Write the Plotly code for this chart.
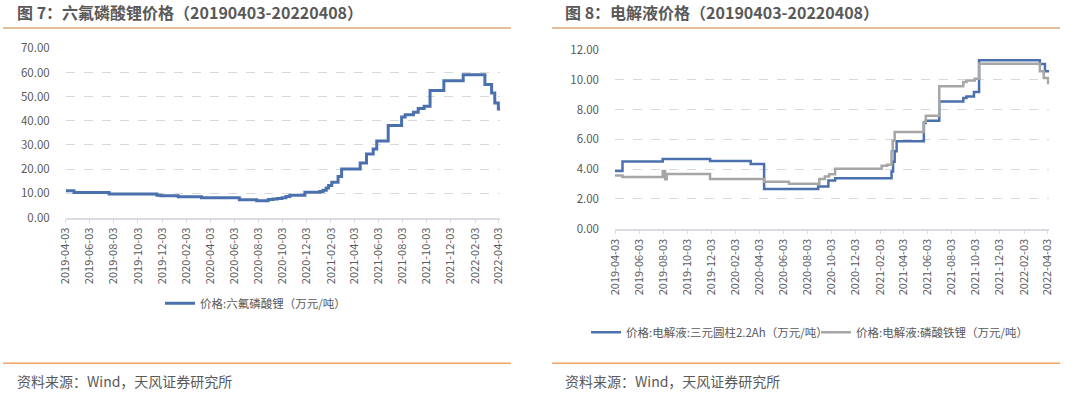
import plotly.graph_objects as go

# ---------------- data ----------------
lipf6_dates = ["2019-04-03", "2019-04-24", "2019-07-22", "2019-11-20", "2019-11-30",
               "2020-01-13", "2020-03-12", "2020-06-16", "2020-07-30", "2020-08-28",
               "2020-09-09", "2020-09-20", "2020-10-02", "2020-10-12", "2020-10-22",
               "2020-11-29", "2021-01-06", "2021-01-14", "2021-01-22", "2021-01-28",
               "2021-02-05", "2021-02-21", "2021-03-02", "2021-04-18", "2021-05-04",
               "2021-05-21", "2021-05-30", "2021-06-28", "2021-08-01", "2021-08-10",
               "2021-08-31", "2021-09-12", "2021-09-27", "2021-10-12", "2021-11-16",
               "2022-01-04", "2022-02-28", "2022-03-17", "2022-03-25", "2022-04-03",
               "2022-04-08"]
lipf6_price = [11.1, 10.3, 9.7, 9.2, 9.0,
               8.6, 8.2, 7.3, 6.9, 7.4,
               7.7, 7.9, 8.2, 8.7, 9.2,
               10.4, 10.8, 11.3, 12.2, 13.2,
               14.6, 17.0, 20.1, 22.5, 26.3,
               28.3, 31.7, 38.1, 41.6, 42.5,
               43.5, 45.1, 46.0, 52.5, 56.6,
               59.1, 55.0, 51.5, 47.4, 44.9,
               44.9]

ncm_dates = ["2019-04-03", "2019-04-22", "2019-08-02", "2019-11-30", "2020-03-12",
             "2020-04-15", "2020-08-30", "2020-09-25", "2020-10-12", "2021-03-04",
             "2021-03-08", "2021-03-12", "2021-03-17", "2021-05-25", "2021-05-30",
             "2021-07-03", "2021-09-02", "2021-09-10", "2021-09-29", "2021-10-12",
             "2022-03-15", "2022-03-28", "2022-04-08"]
ncm_price = [3.88, 4.52, 4.68, 4.55, 4.35,
             2.67, 2.83, 3.23, 3.39, 3.84,
             4.5, 5.2, 5.88, 7.09, 7.25,
             8.55, 8.77, 8.88, 9.18, 11.32,
             11.06, 10.57, 10.57]

lfp_dates = ["2019-04-03", "2019-04-22", "2019-08-02", "2019-08-08", "2019-08-12",
             "2019-11-30", "2020-04-15", "2020-06-17", "2020-09-02", "2020-09-16",
             "2020-09-27", "2020-10-12", "2021-02-07", "2021-02-21", "2021-03-04",
             "2021-03-07", "2021-03-12", "2021-05-25", "2021-05-30", "2021-07-03",
             "2021-09-02", "2021-09-10", "2021-10-01", "2021-10-12", "2022-03-15",
             "2022-03-25", "2022-04-05", "2022-04-08"]
lfp_price = [3.57, 3.48, 3.88, 3.32, 3.68,
             3.34, 3.15, 3.02, 3.34, 3.50,
             3.66, 4.02, 4.22, 4.29, 5.2,
             5.9, 6.5, 7.16, 7.58, 9.56,
             9.85, 9.96, 10.07, 11.08, 10.57,
             10.12, 9.78, 9.78]

tick_dates = ["2019-04-03", "2019-06-03", "2019-08-03", "2019-10-03", "2019-12-03",
              "2020-02-03", "2020-04-03", "2020-06-03", "2020-08-03", "2020-10-03",
              "2020-12-03", "2021-02-03", "2021-04-03", "2021-06-03", "2021-08-03",
              "2021-10-03", "2021-12-03", "2022-02-03", "2022-04-03"]

name_lipf6 = "价格:六氟磷酸锂（万元/吨）"
name_ncm = "价格:电解液:三元圆柱2.2Ah（万元/吨）"
name_lfp = "价格:电解液:磷酸铁锂（万元/吨）"

title_left = "图 7：六氟磷酸锂价格（20190403-20220408）"
title_right = "图 8：电解液价格（20190403-20220408）"
source_text = "资料来源：Wind，天风证券研究所"

# ---------------- styles ----------------
FONT = "Noto Sans CJK SC"
TXT = "#595959"
BLUE = "#4A70AE"
GRAY = "#A6A6A6"
AXIS = "#D9DCE3"
GRID = "#D9D9D9"

fig = go.Figure()
fig.add_trace(go.Scatter(x=lipf6_dates, y=lipf6_price, name=name_lipf6, mode="lines",
                         line=dict(color=BLUE, width=3, shape="hv"),
                         xaxis="x", yaxis="y", legend="legend"))
fig.add_trace(go.Scatter(x=ncm_dates, y=ncm_price, name=name_ncm, mode="lines",
                         line=dict(color=BLUE, width=2.5, shape="hv"),
                         xaxis="x2", yaxis="y2", legend="legend2"))
fig.add_trace(go.Scatter(x=lfp_dates, y=lfp_price, name=name_lfp, mode="lines",
                         line=dict(color=GRAY, width=2.5, shape="hv"),
                         xaxis="x2", yaxis="y2", legend="legend2"))

W, H = 1080, 397
def px(v): return v / W
def py(v): return 1 - v / H

xcommon = dict(type="date", tickmode="array", tickvals=tick_dates, tickformat="%Y-%m-%d",
               tickangle=-90, tickfont=dict(family=FONT, size=11, color=TXT),
               showline=True, linecolor=AXIS, linewidth=1.5, ticks="outside",
               ticklen=4, tickcolor=AXIS, showgrid=False, zeroline=False,
               range=["2019-04-03", "2022-04-08"], fixedrange=True)
ycommon = dict(tickformat=".2f", tickfont=dict(family=FONT, size=11.5, color=TXT),
               showgrid=True, gridcolor=GRID, griddash="dash", gridwidth=1,
               zeroline=False, showline=False, ticks="", ticklabelstandoff=15,
               fixedrange=True)

fig.update_layout(
    width=W, height=H, margin=dict(l=0, r=0, t=0, b=0, autoexpand=False),
    paper_bgcolor="white", plot_bgcolor="white",
    font=dict(family=FONT, color=TXT),
    xaxis=dict(xcommon, domain=[px(65.7), px(500.3)], anchor="y"),
    yaxis=dict(ycommon, domain=[py(217.5), py(48.3)], range=[0, 70], dtick=10, anchor="x"),
    xaxis2=dict(xcommon, domain=[px(615), px(1049.3)], anchor="y2"),
    yaxis2=dict(ycommon, domain=[py(228.7), py(50)], range=[0, 12], dtick=2, anchor="x2"),
    legend=dict(orientation="h", x=px(160), y=py(303.3), xanchor="left", yanchor="middle",
                font=dict(family=FONT, size=11.5, color=TXT), bgcolor="rgba(0,0,0,0)"),
    legend2=dict(orientation="h", x=px(586), y=py(332.3), xanchor="left", yanchor="middle",
                 entrywidth=185, entrywidthmode="pixels",
                 font=dict(family=FONT, size=11.5, color=TXT), bgcolor="rgba(0,0,0,0)"),
    showlegend=True,
)

# titles and source notes
for xpos, t in [(15, title_left), (563.3, title_right)]:
    fig.add_annotation(x=px(xpos), y=py(12.5), xref="paper", yref="paper", text="<b>" + t + "</b>",
                       showarrow=False, xanchor="left", yanchor="middle",
                       font=dict(family=FONT, size=16, color=TXT))
for xpos in [15, 563.3]:
    fig.add_annotation(x=px(xpos), y=py(381), xref="paper", yref="paper", text=source_text,
                       showarrow=False, xanchor="left", yanchor="middle",
                       font=dict(family=FONT, size=14, color=TXT))

# divider lines
for x0, x1 in [(3, 511), (552, 1060)]:
    fig.add_shape(type="line", xref="paper", yref="paper", x0=px(x0), x1=px(x1),
                  y0=py(28), y1=py(28), line=dict(color="#DDA877", width=1.5))
    fig.add_shape(type="line", xref="paper", yref="paper", x0=px(x0), x1=px(x1),
                  y0=py(363.3), y1=py(363.3), line=dict(color="#F2A466", width=1.5))

fig.write_html("out.html", config={"displayModeBar": False},
               post_script="document.body.style.margin='0';document.body.style.overflow='hidden';")
